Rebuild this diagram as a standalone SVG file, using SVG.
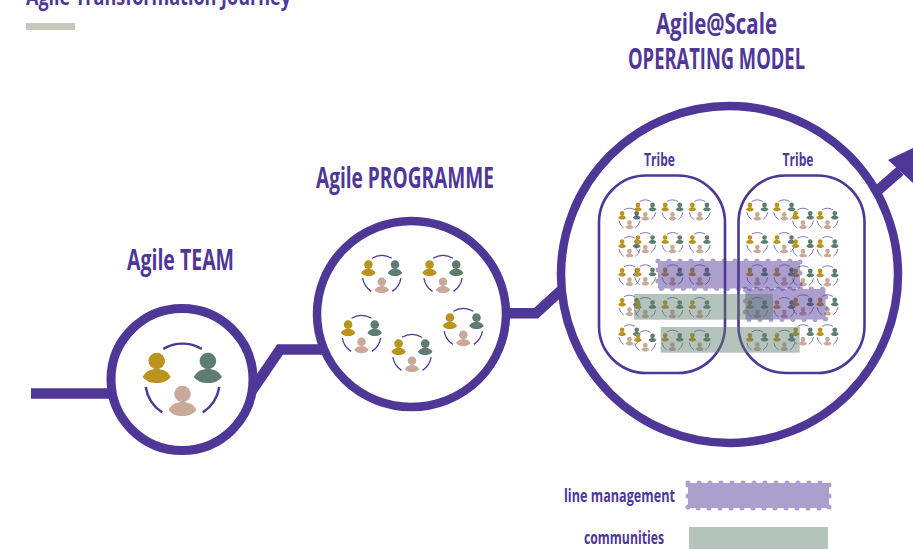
<svg xmlns="http://www.w3.org/2000/svg" width="913" height="549" viewBox="0 0 913 549">
<style>
text{font-family:"Open Sans","Liberation Sans",sans-serif;fill:#4f3797;font-weight:700}
.ring{fill:#fff;stroke:#4f3797}
.line{fill:none;stroke:#4f3797;stroke-width:10.5}
.tribe{fill:none;stroke:#4f3797;stroke-width:2.6}
.arc{fill:none;stroke:#4f3797;stroke-width:2.4}
.lm{fill:#4f3797;opacity:.47}
.com{fill:#5e7c70;opacity:.46}
</style>
<defs>
<path id="p" d="M-14,16C-11,10-6,8 0,8C6,8 11,10 14,16C10,21 5,22 0,22C-5,22-10,21-14,16Z M8.3,0A8.3,8.3 0 1 1-8.3,0A8.3,8.3 0 1 1 8.3,0Z"/>
<g id="t">
<path class="arc" d="M-19.2,-32.1A37.4,37.4 0 0 1 19.2,-32.1M-36.8,6A37.4,37.4 0 0 0 -20.2,31.5M36.8,6A37.4,37.4 0 0 1 20.2,31.5"/>
<use href="#p" x="-25.8" y="-20" fill="#bb931f"/>
<use href="#p" x="25.4" y="-20" fill="#5e7c70"/>
<use href="#p" x="0" y="13" fill="#c8a99a"/>
</g>
</defs>
<g id="header">
<text x="26" y="5" font-size="24" textLength="265" lengthAdjust="spacingAndGlyphs">Agile Transformation Journey</text>
<rect x="26" y="23" width="49" height="7" fill="#c9c6bb"/>
</g>
<g id="connectors">
<path class="line" d="M31,393.5H112"/>
<path class="line" d="M249,395L280,349.5H322"/>
<path class="line" d="M505,313.3H536L562,289.5"/>
<path class="line" d="M876,192L900,171"/>
<path d="M888,160L913,148V183Z" fill="#4f3797"/>
</g>
<g id="team">
<circle class="ring" cx="182" cy="379.5" r="71" stroke-width="9"/>
<use href="#t" transform="translate(182.5,381)"/>
<text x="127" y="270" font-size="28" textLength="107" lengthAdjust="spacingAndGlyphs">Agile TEAM</text>
</g>
<g id="programme">
<ellipse class="ring" cx="411.5" cy="314" rx="94.5" ry="93" stroke-width="8.5"/>
<use href="#t" transform="translate(381.8,275) scale(.52)"/>
<use href="#t" transform="translate(443,275) scale(.52)"/>
<use href="#t" transform="translate(361.5,335) scale(.52)"/>
<use href="#t" transform="translate(412,354) scale(.52)"/>
<use href="#t" transform="translate(463.3,328) scale(.52)"/>
<text x="316" y="187.5" font-size="28" textLength="178" lengthAdjust="spacingAndGlyphs">Agile PROGRAMME</text>
</g>
<g id="scale">
<circle class="ring" cx="729.5" cy="274.5" r="168.5" stroke-width="8.5"/>
<text x="656" y="33.5" font-size="28" textLength="121" lengthAdjust="spacingAndGlyphs">Agile@Scale</text>
<text x="628" y="68.5" font-size="28" textLength="177" lengthAdjust="spacingAndGlyphs">OPERATING MODEL</text>
<g id="tribe-left">
<text x="644" y="166" font-size="17" textLength="31" lengthAdjust="spacingAndGlyphs">Tribe</text>
<use href="#t" transform="translate(629.5,219) scale(.285)"/><use href="#t" transform="translate(645.3,210.6) scale(.285)"/><use href="#t" transform="translate(672.5,210.6) scale(.285)"/><use href="#t" transform="translate(699.7,210.6) scale(.285)"/>
<use href="#t" transform="translate(629.5,247.4) scale(.285)"/><use href="#t" transform="translate(645.3,243.3) scale(.285)"/><use href="#t" transform="translate(672.5,243.3) scale(.285)"/><use href="#t" transform="translate(699.7,243.3) scale(.285)"/>
<use href="#t" transform="translate(629.5,276) scale(.285)"/><use href="#t" transform="translate(645.3,275.6) scale(.285)"/><use href="#t" transform="translate(672.5,275.6) scale(.285)"/><use href="#t" transform="translate(699.7,275.6) scale(.285)"/>
<use href="#t" transform="translate(629.5,306) scale(.285)"/><use href="#t" transform="translate(645.3,308.3) scale(.285)"/><use href="#t" transform="translate(672.5,308.3) scale(.285)"/><use href="#t" transform="translate(699.7,308.3) scale(.285)"/>
<use href="#t" transform="translate(629.5,335.5) scale(.285)"/><use href="#t" transform="translate(645.3,341.5) scale(.285)"/><use href="#t" transform="translate(672.5,341) scale(.285)"/><use href="#t" transform="translate(699.7,341) scale(.285)"/>
<rect class="tribe" x="599" y="175.5" width="126" height="197.5" rx="47"/>
</g>
<g id="tribe-right">
<text x="782.5" y="166" font-size="17" textLength="31" lengthAdjust="spacingAndGlyphs">Tribe</text>
<use href="#t" transform="translate(757.3,210.6) scale(.285)"/><use href="#t" transform="translate(784.3,210.6) scale(.285)"/><use href="#t" transform="translate(803,219) scale(.285)"/><use href="#t" transform="translate(827.5,219) scale(.285)"/>
<use href="#t" transform="translate(757.3,243.3) scale(.285)"/><use href="#t" transform="translate(784.3,243.3) scale(.285)"/><use href="#t" transform="translate(803,247.4) scale(.285)"/><use href="#t" transform="translate(827.5,247.4) scale(.285)"/>
<use href="#t" transform="translate(757.3,275.6) scale(.285)"/><use href="#t" transform="translate(784.3,275.6) scale(.285)"/><use href="#t" transform="translate(803,276.6) scale(.285)"/><use href="#t" transform="translate(827.5,276.6) scale(.285)"/>
<use href="#t" transform="translate(757.3,308.3) scale(.285)"/><use href="#t" transform="translate(784.3,308.3) scale(.285)"/><use href="#t" transform="translate(803,305.6) scale(.285)"/><use href="#t" transform="translate(827.5,305.6) scale(.285)"/>
<use href="#t" transform="translate(757.3,341) scale(.285)"/><use href="#t" transform="translate(784.3,341) scale(.285)"/><use href="#t" transform="translate(803,335.5) scale(.285)"/><use href="#t" transform="translate(827.5,335.5) scale(.285)"/>
<rect class="tribe" x="738.5" y="175.5" width="126" height="197.5" rx="47"/>
</g>
<g id="overlays">
<g class="lm"><rect x="658" y="261" width="142" height="27.5"/><rect x="658" y="261" width="142" height="27.5" fill="none" stroke="#4f3797" stroke-width="5" stroke-linecap="round" stroke-dasharray="0 11"/></g>
<g class="lm"><rect x="745.5" y="289" width="80" height="30.5"/><rect x="745.5" y="289" width="80" height="30.5" fill="none" stroke="#4f3797" stroke-width="5" stroke-linecap="round" stroke-dasharray="0 11"/></g>
<rect class="com" x="634" y="294" width="139" height="25.7"/>
<rect class="com" x="660.7" y="327" width="139" height="25.7"/>
</g>
</g>
<g id="legend">
<text x="564" y="502" font-size="18" textLength="111" lengthAdjust="spacingAndGlyphs">line management</text>
<g class="lm"><rect x="688" y="483" width="141" height="25"/><rect x="688" y="483" width="141" height="25" fill="none" stroke="#4f3797" stroke-width="5" stroke-linecap="round" stroke-dasharray="0 11"/></g>
<text x="584" y="544" font-size="18" textLength="80" lengthAdjust="spacingAndGlyphs">communities</text>
<rect class="com" x="689" y="527" width="139" height="22"/>
</g>
</svg>
